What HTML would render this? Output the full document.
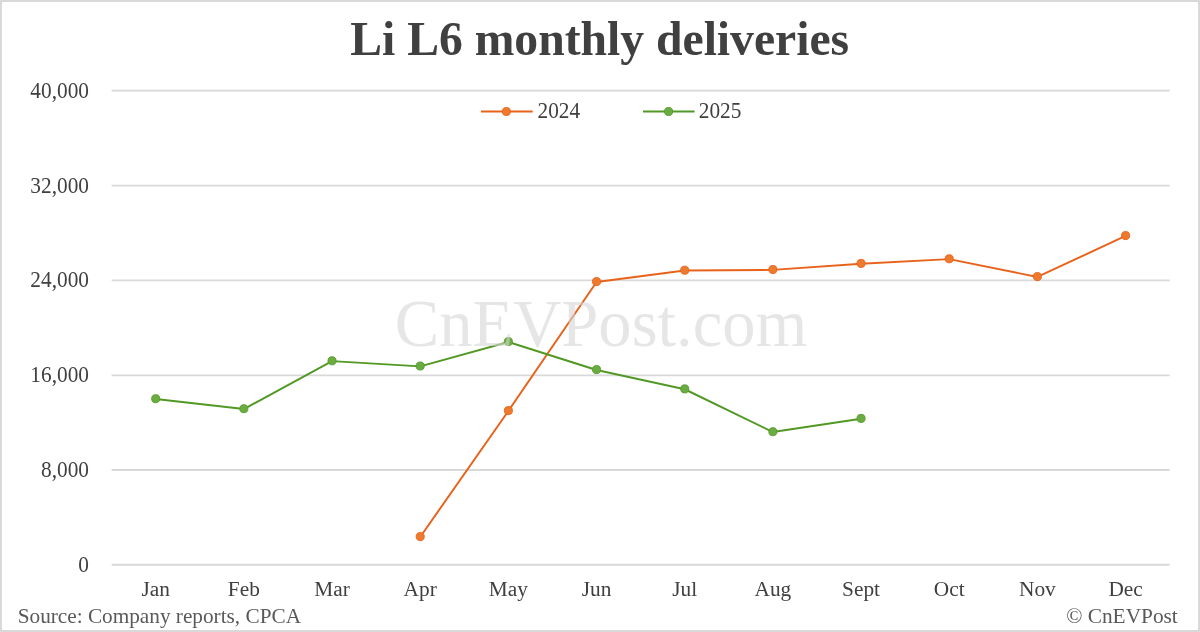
<!DOCTYPE html>
<html><head><meta charset="utf-8">
<style>
html,body{margin:0;padding:0;background:#fff;}
body{width:1200px;height:632px;overflow:hidden;}
svg{display:block;will-change:transform;}
text{font-family:"Liberation Serif",serif;}
</style></head>
<body>
<svg width="1200" height="632" viewBox="0 0 1200 632">
<rect x="0" y="0" width="1200" height="632" fill="#fff"/>
<rect x="1" y="1" width="1198" height="630" fill="none" stroke="#d9d9d9" stroke-width="2"/>
<text x="599.7" y="55.2" text-anchor="middle" font-size="47.65" font-weight="bold" fill="#404040">Li L6 monthly deliveries</text>
<g stroke="#d9d9d9" stroke-width="1.8">
<line x1="111.6" y1="90.7" x2="1169.7" y2="90.7"/>
<line x1="111.6" y1="185.7" x2="1169.7" y2="185.7"/>
<line x1="111.6" y1="280.4" x2="1169.7" y2="280.4"/>
<line x1="111.6" y1="375.3" x2="1169.7" y2="375.3"/>
<line x1="111.6" y1="470.0" x2="1169.7" y2="470.0"/>
<line x1="111.6" y1="564.75" x2="1169.7" y2="564.75"/>
</g>
<g font-size="21.33" fill="#404040" text-anchor="end">
<text transform="translate(89.0,97.70) scale(1,1.06)">40,000</text>
<text transform="translate(89.0,192.70) scale(1,1.06)">32,000</text>
<text transform="translate(89.0,287.40) scale(1,1.06)">24,000</text>
<text transform="translate(89.0,382.30) scale(1,1.06)">16,000</text>
<text transform="translate(89.0,477.00) scale(1,1.06)">8,000</text>
<text transform="translate(89.0,571.75) scale(1,1.06)">0</text>
</g>
<g font-size="21.33" fill="#404040" text-anchor="middle">
<text x="155.70" y="596.0">Jan</text>
<text x="243.87" y="596.0">Feb</text>
<text x="332.04" y="596.0">Mar</text>
<text x="420.21" y="596.0">Apr</text>
<text x="508.38" y="596.0">May</text>
<text x="596.55" y="596.0">Jun</text>
<text x="684.72" y="596.0">Jul</text>
<text x="772.89" y="596.0">Aug</text>
<text x="861.06" y="596.0">Sept</text>
<text x="949.23" y="596.0">Oct</text>
<text x="1037.40" y="596.0">Nov</text>
<text x="1125.57" y="596.0">Dec</text>
</g>
<polyline fill="none" stroke="#E8621A" stroke-width="1.95" stroke-linejoin="round" points="420.21,536.95 508.38,410.95 596.55,281.95 684.72,270.55 772.89,269.85 861.06,263.75 949.23,259.15 1037.40,276.95 1125.57,235.95"/>
<g fill="#EE7A2E" stroke="#E8621A" stroke-width="0.9">
<circle cx="420.21" cy="536.60" r="4.05"/>
<circle cx="508.38" cy="410.60" r="4.05"/>
<circle cx="596.55" cy="281.60" r="4.05"/>
<circle cx="684.72" cy="270.20" r="4.05"/>
<circle cx="772.89" cy="269.50" r="4.05"/>
<circle cx="861.06" cy="263.40" r="4.05"/>
<circle cx="949.23" cy="258.80" r="4.05"/>
<circle cx="1037.40" cy="276.60" r="4.05"/>
<circle cx="1125.57" cy="235.60" r="4.05"/>
</g>
<polyline fill="none" stroke="#529824" stroke-width="1.95" stroke-linejoin="round" points="155.70,399.05 243.87,409.05 332.04,361.15 420.21,366.35 508.38,341.95 596.55,369.95 684.72,389.25 772.89,432.05 861.06,418.75"/>
<g fill="#6AAC42" stroke="#569A28" stroke-width="0.9">
<circle cx="155.70" cy="398.70" r="4.05"/>
<circle cx="243.87" cy="408.70" r="4.05"/>
<circle cx="332.04" cy="360.80" r="4.05"/>
<circle cx="420.21" cy="366.00" r="4.05"/>
<circle cx="508.38" cy="341.60" r="4.05"/>
<circle cx="596.55" cy="369.60" r="4.05"/>
<circle cx="684.72" cy="388.90" r="4.05"/>
<circle cx="772.89" cy="431.70" r="4.05"/>
<circle cx="861.06" cy="418.40" r="4.05"/>
</g>
<line x1="481" y1="111.5" x2="532.7" y2="111.5" stroke="#E8621A" stroke-width="1.95"/>
<circle cx="506.4" cy="111.5" r="4.05" fill="#EE7A2E" stroke="#E8621A" stroke-width="0.9"/>
<text transform="translate(537.5,117.7) scale(1,1.06)" font-size="21.33" fill="#404040">2024</text>
<line x1="643" y1="111.5" x2="694.6" y2="111.5" stroke="#529824" stroke-width="1.95"/>
<circle cx="668.6" cy="111.5" r="4.05" fill="#6AAC42" stroke="#569A28" stroke-width="0.9"/>
<text transform="translate(698.8,117.7) scale(1,1.06)" font-size="21.33" fill="#404040">2025</text>
<text x="601.1" y="346.3" text-anchor="middle" font-size="66.6" fill="rgb(213,213,213)" fill-opacity="0.6">CnEVPost.com</text>
<text x="17.7" y="622.6" font-size="21.25" fill="#595959">Source: Company reports, CPCA</text>
<text x="1177.8" y="622.6" font-size="21.33" fill="#595959" text-anchor="end">© CnEVPost</text>
</svg>
</body></html>
